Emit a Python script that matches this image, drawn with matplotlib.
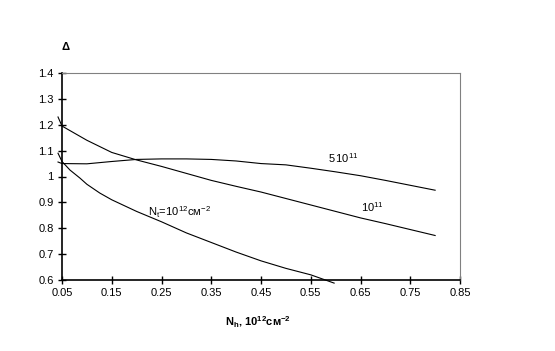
import matplotlib.pyplot as plt

plt.rcParams['font.family'] = ['Liberation Sans', 'DejaVu Sans']
plt.rcParams['mathtext.fontset'] = 'custom'
plt.rcParams['mathtext.rm'] = 'Liberation Sans'
plt.rcParams['mathtext.it'] = 'Liberation Sans:italic'
plt.rcParams['mathtext.bf'] = 'Liberation Sans:bold'

# curves
nh = [0.042, 0.05, 0.1, 0.15, 0.2, 0.25, 0.3, 0.35, 0.4, 0.45, 0.5, 0.55, 0.6, 0.65, 0.7, 0.75, 0.8]
d_1e11 = [1.23, 1.195, 1.14, 1.093, 1.064, 1.039, 1.012, 0.985, 0.962, 0.94, 0.915, 0.89, 0.865, 0.84, 0.818, 0.795, 0.772]
d_5e11 = [1.056, 1.05, 1.049, 1.058, 1.066, 1.068, 1.068, 1.066, 1.06, 1.05, 1.045, 1.032, 1.018, 1.003, 0.985, 0.966, 0.947]

nh_1e12 = [0.042, 0.05, 0.066, 0.086, 0.1, 0.126, 0.15, 0.2, 0.25, 0.3, 0.35, 0.4, 0.45, 0.5, 0.55, 0.597]
d_1e12 = [1.09, 1.058, 1.025, 0.994, 0.97, 0.936, 0.91, 0.865, 0.825, 0.782, 0.745, 0.708, 0.674, 0.645, 0.62, 0.588]

xticks = [0.05, 0.15, 0.25, 0.35, 0.45, 0.55, 0.65, 0.75, 0.85]
yticks = [0.6, 0.7, 0.8, 0.9, 1.0, 1.1, 1.2, 1.3, 1.4]

fig = plt.figure(figsize=(5.55, 3.51), dpi=100)
ax = fig.add_axes([62/555, 1-280/351, 398/555, 207/351])

for x, y in [(nh, d_1e11), (nh, d_5e11), (nh_1e12, d_1e12)]:
    ax.plot(x, y, color='black', lw=0.8, clip_on=False)

ax.set_xlim(0.05, 0.85)
ax.set_ylim(0.6, 1.4)
ax.set_xticks(xticks)
ax.set_yticks(yticks)
ax.set_xticklabels(['%g' % v for v in xticks])
ax.set_yticklabels(['%g' % v for v in yticks])
ax.tick_params(direction='inout', length=6, width=1, labelsize=8, pad=3)

for s in ['top', 'right']:
    ax.spines[s].set_color('#808080')
for s in ['left', 'bottom']:
    ax.spines[s].set_linewidth(1.2)

ax.text(0.585, 1.07, r'$\mathregular{5\,10^{11}}$', fontsize=8, va='center')
ax.text(0.651, 0.883, r'$\mathregular{10^{11}}$', fontsize=8, va='center')
ax.text(0.223, 0.863, r'$\mathregular{N_t\!=\!10^{12}см^{-2}}$', fontsize=8, va='center')

fig.text(62/555, 1-47/351, 'Δ', fontsize=8, fontweight='bold', ha='left', va='center')
fig.text(225/555, 1-322/351, r'$\mathbf{N_h}$' + ', ' + r'$\mathbf{10^{12}см^{-2}}$',
         fontsize=8, fontweight='bold', ha='left', va='center')

fig.savefig('out.png', dpi=100)
